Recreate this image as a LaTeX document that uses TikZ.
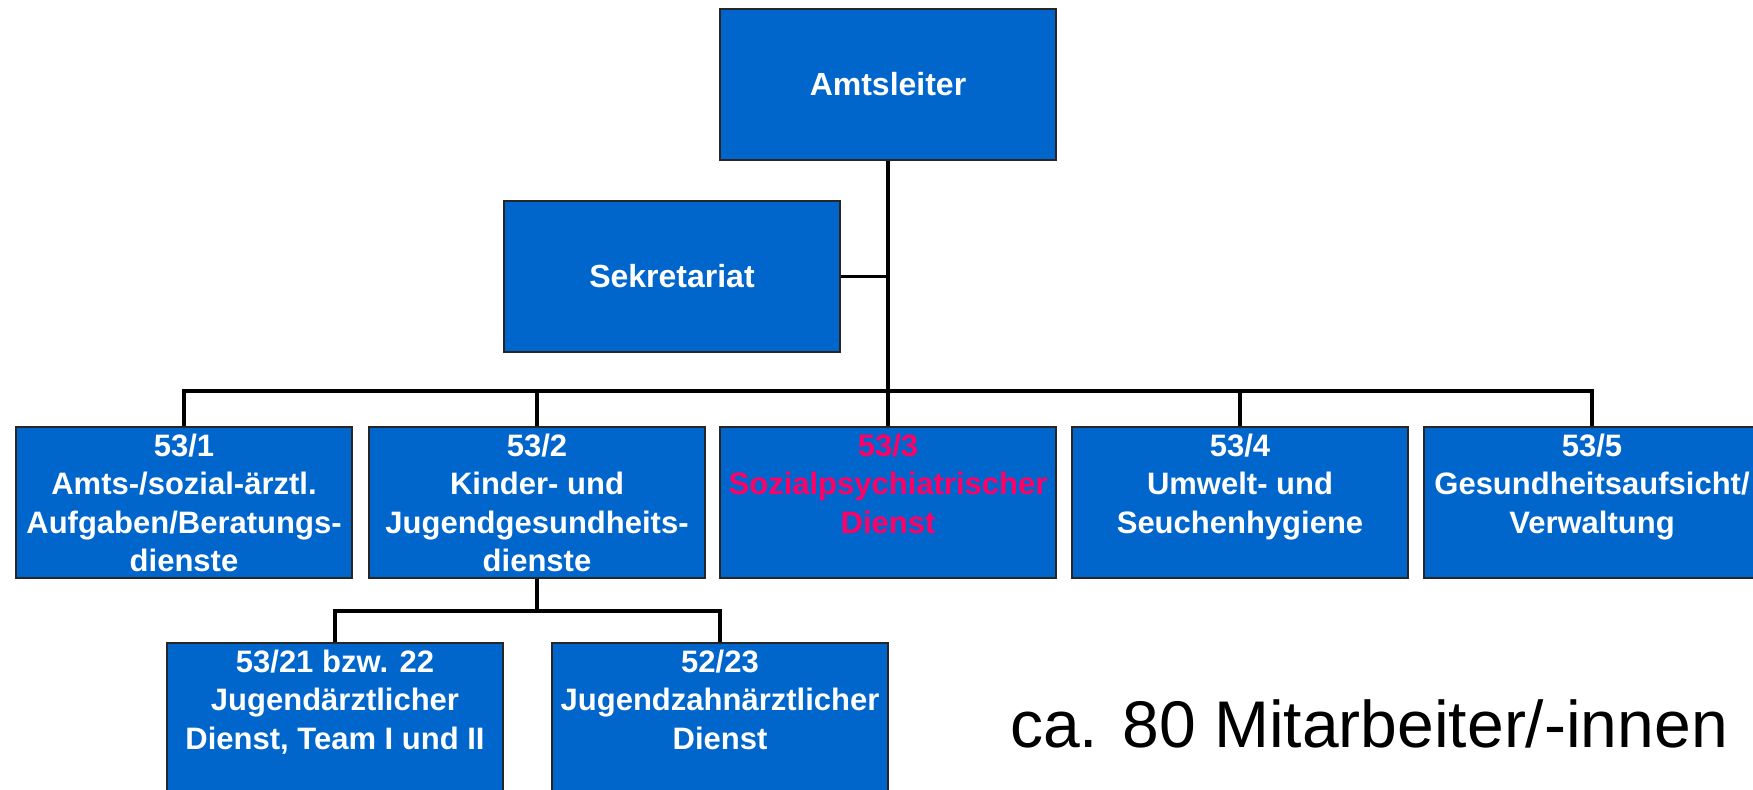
\documentclass[tikz,border=0pt]{standalone}
\usepackage{fontspec}
\setmainfont{Liberation Sans}
\usetikzlibrary{calc}
\usepackage{xcolor}
\definecolor{amtblue}{HTML}{0066CC}
\definecolor{hilite}{HTML}{FF0066}
\newcommand{\unittext}[1]{\parbox[c][75.5pt][t]{168pt}{\centering\vspace*{3.5pt}#1}}

\begin{document}
\begin{tikzpicture} [x=0.5pt,y=-0.5pt]
\tikzset{orgbox/.style={draw=black!85, line width=1pt, fill=amtblue, text=white, font=\bfseries\fontsize{15.5}{19.2}\selectfont, inner sep=0pt, minimum width=168pt, minimum height=75.5pt, align=center},
 link/.style={black, line width=1.7pt}}
\useasboundingbox (0,0) rectangle (1753,790);
% top
\node[orgbox, font=\bfseries\fontsize{16}{19}\selectfont] (amt) at (888,84.5) {Amtsleiter};
\node[orgbox, font=\bfseries\fontsize{16}{19}\selectfont] (sek) at (672,276.5) {Sekretariat};
\coordinate (bus) at (888,391);
\coordinate (subbus) at (537,611);
% departments
\node[orgbox] (d1) at (184,502.5) {\unittext{53/1\\Amts-/sozial-ärztl.\\Aufgaben/Beratungs-\\dienste}};
\node[orgbox] (d2) at (537,502.5) {\unittext{53/2\\Kinder- und\\Jugendgesundheits-\\dienste}};
\node[orgbox] (d3) at (888,502.5) {\unittext{\color{hilite}53/3\\Sozialpsychiatrischer\\Dienst}};
\node[orgbox] (d4) at (1240,502.5) {\unittext{53/4\\Umwelt- und\\Seuchenhygiene}};
\node[orgbox] (d5) at (1592,502.5) {\unittext{53/5\\Gesundheitsaufsicht/\\Verwaltung}};
\node[orgbox] (t1) at (335,718.5) {\unittext{53/21 bzw. 22\\Jugendärztlicher\\Dienst, Team I und II}};
\node[orgbox] (t2) at (720,718.5) {\unittext{52/23\\Jugendzahnärztlicher\\Dienst}};
\node[anchor=west, font=\fontsize{33}{36}\selectfont] (staff) at (1003,724) {ca. 80 Mitarbeiter/-innen};
% lines
\draw[link] (amt.south) -- (bus);
\draw[link] (sek.east) -- (sek.east -| amt.south);
\foreach \d in {d1,d2,d3,d4,d5} {
\draw[link] (\d.north) |- (bus);
}
\draw[link] (d2.south) -- (subbus);
\foreach \d in {t1,t2} {
\draw[link] (\d.north) |- (subbus);
}
\end{tikzpicture}
\end{document}
